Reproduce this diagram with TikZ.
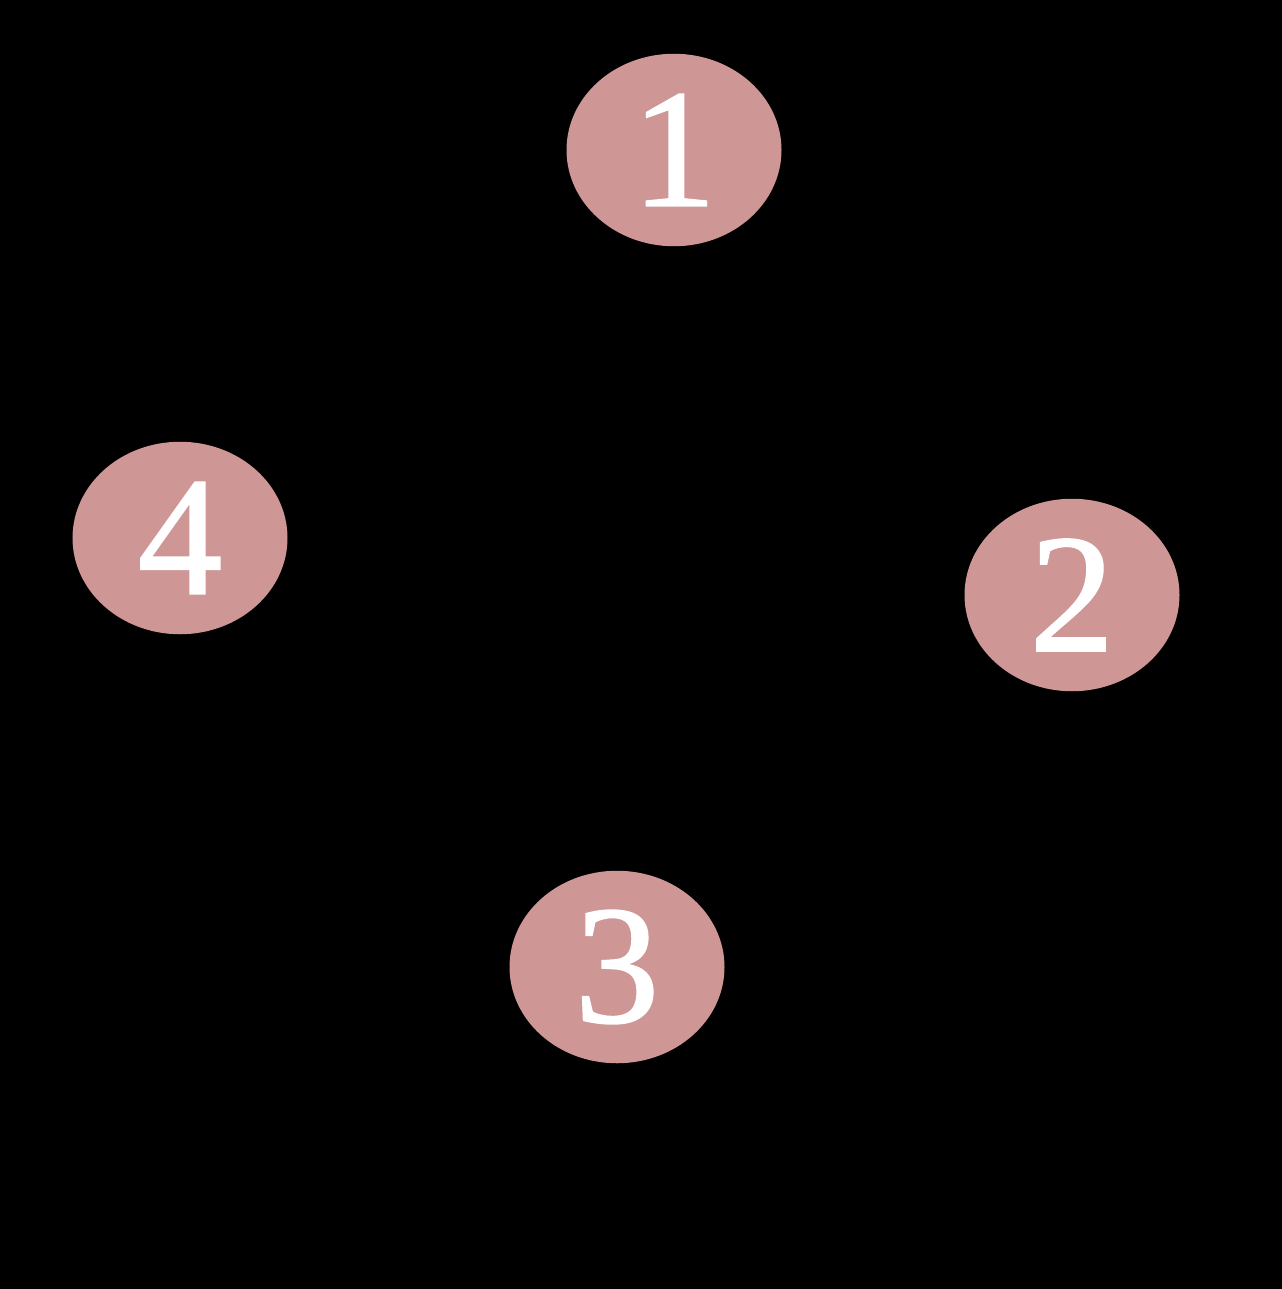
\documentclass[tikz,border=0pt]{standalone}
\usepackage{fontspec}
\setmainfont{Liberation Serif}
\newfontfamily\discfont[FakeBold=1.2]{Liberation Serif}
\usepackage{tikz}
\usetikzlibrary{shapes.geometric,positioning}
\definecolor{discPink}{RGB}{207,150,150}
\tikzset{
  numdisc/.style={ellipse, fill=discPink, text=white, inner sep=0pt,
    minimum width=43mm, minimum height=38.5mm,
    font=\discfont\fontsize{96}{96}\selectfont},
}
\newcommand{\discnum}[1]{\raisebox{-1mm}{#1}}

\begin{document}
\begin{tikzpicture}[x=0.2mm, y=-0.2mm]
    % black page
    \fill[black] (0,0) rectangle (1282,1289);
    \useasboundingbox (0,0) rectangle (1282,1289);
    % numbered discs
    \node[numdisc] (n1) at (674,150) {\discnum{1}};
    \node[numdisc] (n2) at (1072,595) {\discnum{2}};
    \node[numdisc] (n3) at (617,967) {\discnum{3}};
    \node[numdisc] (n4) at (180,538) {\discnum{4}};
  \end{tikzpicture}
\end{document}
